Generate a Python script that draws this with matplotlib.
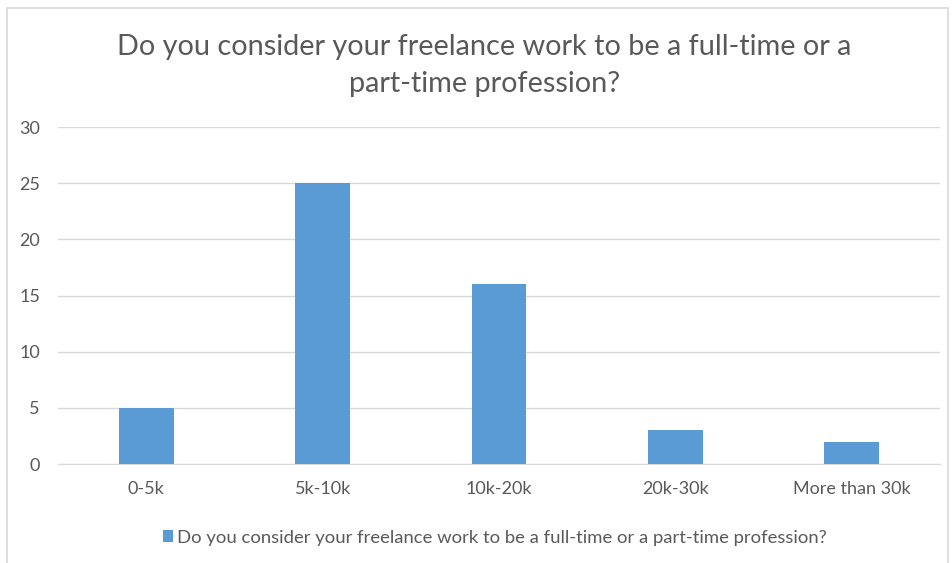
import matplotlib
matplotlib.use("Agg")
import matplotlib.pyplot as plt
from matplotlib.patches import Rectangle

plt.rcParams['font.family'] = ['Lato', 'DejaVu Sans']

categories = ['0-5k', '5k-10k', '10k-20k', '20k-30k', 'More than 30k']
counts = [5, 25, 16, 3, 2]
yticks = [0, 5, 10, 15, 20, 25, 30]
question = 'Do you consider your freelance work to be a full-time or a part-time profession?'

bar_color = '#5B9BD5'
text_color = '#595959'
grid_color = '#D9D9D9'

fig = plt.figure(figsize=(9.53, 5.63), dpi=100)
ax = fig.add_axes([0.0609, 0.1758, 0.9255, 0.5986])

# outer chart frame
fig.patches.append(Rectangle((7 / 953, -0.01), 941 / 953, 1 - 8 / 563 + 0.01,
                             transform=fig.transFigure, fill=False,
                             edgecolor='#D9D9D9', linewidth=1.2))

x = range(len(categories))
ax.bar(x, counts, width=0.31, color=bar_color, label=question, zorder=3)

ax.set_xlim(-0.5, len(categories) - 0.5)
ax.set_ylim(0, 30)
ax.set_yticks(yticks)
ax.set_xticks(list(x))
ax.set_xticklabels(categories)
ax.yaxis.grid(True, color=grid_color, linewidth=1, zorder=0)
ax.tick_params(axis='both', length=0, labelsize=13, colors=text_color)
ax.tick_params(axis='y', pad=13)
ax.tick_params(axis='x', pad=12)
for side in ['top', 'right', 'left']:
    ax.spines[side].set_visible(False)
ax.spines['bottom'].set_color(grid_color)

fig.text(0.508, 0.884, 'Do you consider your freelance work to be a full-time or a\npart-time profession?',
         ha='center', va='center', fontsize=20.8, color=text_color, linespacing=1.5)

leg = ax.legend(loc='upper center', bbox_to_anchor=(0.495, -0.145), frameon=False,
                fontsize=13.3, handlelength=0.55, handleheight=0.55, handletextpad=0.2)
for t in leg.get_texts():
    t.set_color(text_color)

fig.savefig('out.png', dpi=100)
